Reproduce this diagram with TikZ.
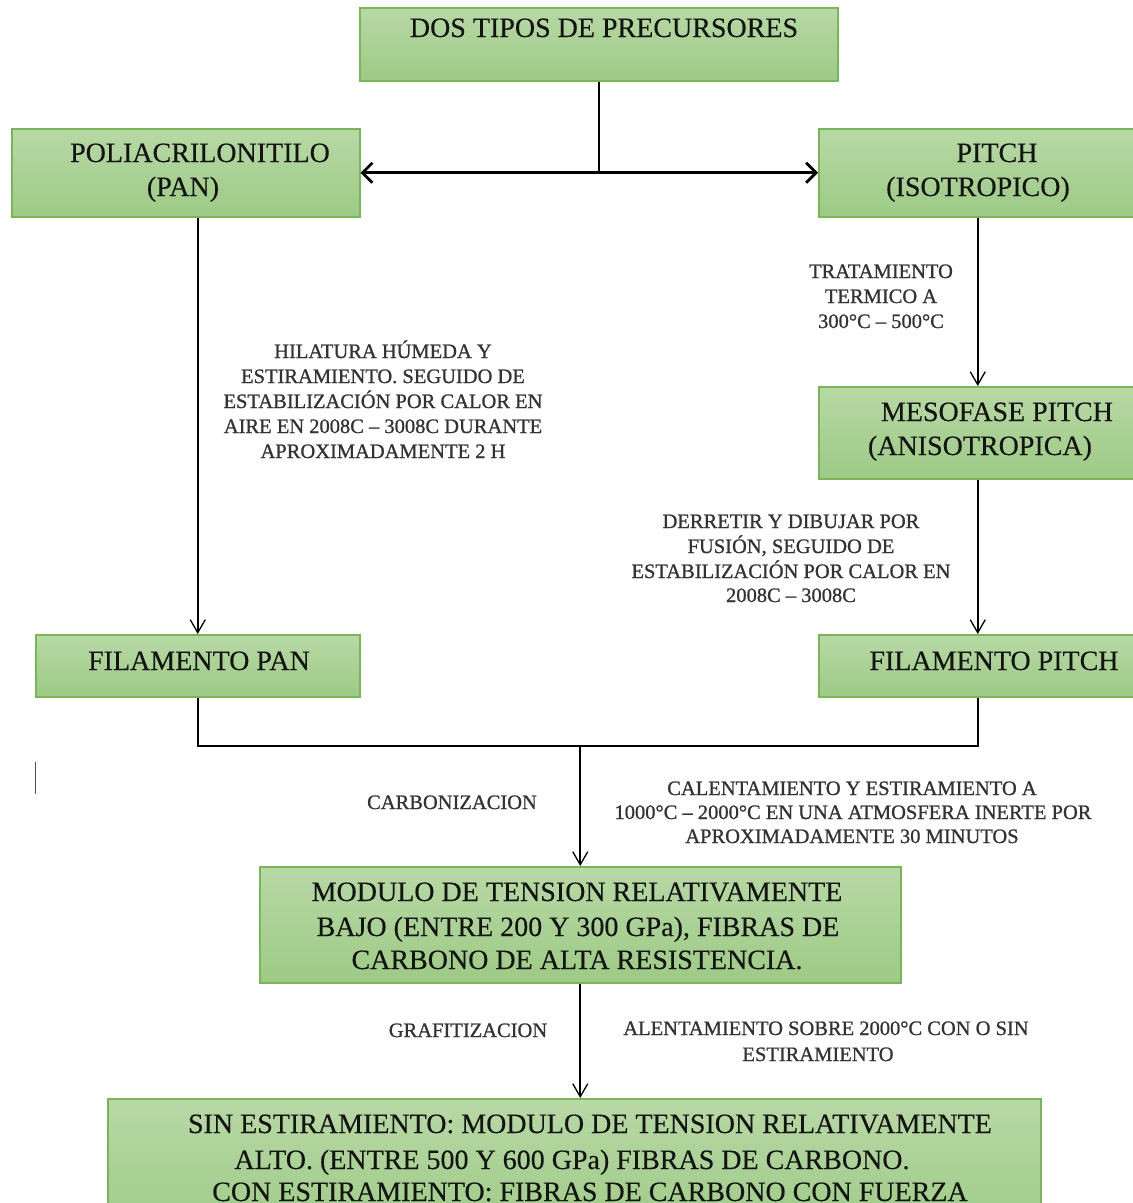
\documentclass[tikz,border=0pt]{standalone}
\usepackage{fontspec}
\setmainfont{Liberation Serif}
\newfontfamily\labfont[FakeBold=0.9]{Liberation Serif}
\newfontfamily\bigfont[FakeBold=0.3]{Liberation Serif}
\usetikzlibrary{arrows.meta}
\definecolor{gtop}{RGB}{184,217,166}
\definecolor{gbot}{RGB}{157,202,133}
\definecolor{gedge}{RGB}{120,182,88}
\begin{document}
\begin{tikzpicture}[x=1pt,y=-1pt,
  box/.style={draw=gedge, line width=1.5pt, top color=gtop, bottom color=gbot, rectangle, inner sep=0pt, anchor=north west},
  big/.style={font=\bigfont\fontsize{28}{34}\selectfont, inner sep=0pt, anchor=base, text=black!92},
  lab/.style={font=\labfont\fontsize{20.5}{25}\selectfont, inner sep=0pt, anchor=base, text=black!80},
  conn/.style={line width=1.6pt, black},
  arr/.style={conn, -{Straight Barb[length=13pt,width=15pt,line width=1.3pt]}},
  dbl/.style={line width=2.8pt, {Straight Barb[length=10pt,width=20pt]}-{Straight Barb[length=10pt,width=20pt]}}]
\useasboundingbox (0,0) rectangle (1133,1203);
\clip (0,0) rectangle (1133,1203);
\fill[white] (0,0) rectangle (1133,1203);
% boxes
\node[box, minimum width=478pt, minimum height=73pt] (top) at (359,7) {};
\node[box, minimum width=348pt, minimum height=88pt] (pan) at (11,128) {};
\node[box, minimum width=318pt, minimum height=88pt] (pitch) at (818,128) {};
\node[box, minimum width=318pt, minimum height=92pt] (meso) at (818,386) {};
\node[box, minimum width=324pt, minimum height=62pt] (fpan) at (35,634) {};
\node[box, minimum width=318pt, minimum height=62pt] (fpitch) at (818,634) {};
\node[box, minimum width=641pt, minimum height=116pt] (mod) at (259,866) {};
\node[box, minimum width=933pt, minimum height=140pt] (bot) at (107,1098) {};
% box texts
\node[big] (topt) at (604,37) {DOS TIPOS DE PRECURSORES};
\node[big] (pant1) at (200,162) {POLIACRILONITILO};
\node[big] (pant2) at (183,196) {(PAN)};
\node[big] (pitt1) at (997,162) {PITCH};
\node[big] (pitt2) at (978,196) {(ISOTROPICO)};
\node[big] (mest1) at (997,421) {MESOFASE PITCH};
\node[big] (mest2) at (980,455) {(ANISOTROPICA)};
\node[big] (fpant) at (199,670) {FILAMENTO PAN};
\node[big] (fpitt) at (994,670) {FILAMENTO PITCH};
\node[big] (modt1) at (577,901) {MODULO DE TENSION RELATIVAMENTE};
\node[big] (modt2) at (578,936) {BAJO (ENTRE 200 Y 300 GPa), FIBRAS DE};
\node[big] (modt3) at (577,969) {CARBONO DE ALTA RESISTENCIA.};
\node[big] (bott1) at (590,1133) {SIN ESTIRAMIENTO: MODULO DE TENSION RELATIVAMENTE};
\node[big] (bott2) at (572,1169) {ALTO. (ENTRE 500 Y 600 GPa) FIBRAS DE CARBONO.};
\node[big] (bott3) at (590,1201) {CON ESTIRAMIENTO: FIBRAS DE CARBONO CON FUERZA};
% labels
\node[lab] (h1) at (383,358) {HILATURA HÚMEDA Y};
\node[lab] (h2) at (383,383) {ESTIRAMIENTO. SEGUIDO DE};
\node[lab] (h3) at (383,408) {ESTABILIZACIÓN POR CALOR EN};
\node[lab] (h4) at (383,433) {AIRE EN 2008C – 3008C DURANTE};
\node[lab] (h5) at (383,458) {APROXIMADAMENTE 2 H};
\node[lab] (t1) at (881,278) {TRATAMIENTO};
\node[lab] (t2) at (881,303) {TERMICO A};
\node[lab] (t3) at (881,328) {300°C – 500°C};
\node[lab] (d1) at (791,528) {DERRETIR Y DIBUJAR POR};
\node[lab] (d2) at (791,553) {FUSIÓN, SEGUIDO DE};
\node[lab] (d3) at (791,578) {ESTABILIZACIÓN POR CALOR EN};
\node[lab] (d4) at (791,602) {2008C – 3008C};
\node[lab] (carb) at (452,809) {CARBONIZACION};
\node[lab] (c1) at (852,795) {CALENTAMIENTO Y ESTIRAMIENTO A};
\node[lab] (c2) at (853,819) {1000°C – 2000°C EN UNA ATMOSFERA INERTE POR};
\node[lab] (c3) at (852,843) {APROXIMADAMENTE 30 MINUTOS};
\node[lab] (graf) at (468,1037) {GRAFITIZACION};
\node[lab] (a1) at (826,1035) {ALENTAMIENTO SOBRE 2000°C CON O SIN};
\node[lab] (a2) at (818,1061) {ESTIRAMIENTO};
% connectors
\coordinate (split) at (top.south |- pan.east);
\draw[conn] (top.south) -- (split);
\draw[dbl] (pan.east) -- (pitch.west);
\draw[arr] (pan.south -| fpan.north) -- (fpan.north);
\draw[arr] (pitch.south) -- (meso.north);
\draw[arr] (meso.south) -- (fpitch.north);
\coordinate (join) at (mod.north |- 0,746);
\draw[conn] (fpan.south) |- (join) -| (fpitch.south);
\draw[arr] (join) -- (mod.north);
\draw[arr] (mod.south) -- (mod.south |- bot.north);
% stray cursor mark
\coordinate (cur) at (35,762);
\draw[black!70, line width=1pt] (cur) -- ++(0,32);
\end{tikzpicture}
\end{document}
